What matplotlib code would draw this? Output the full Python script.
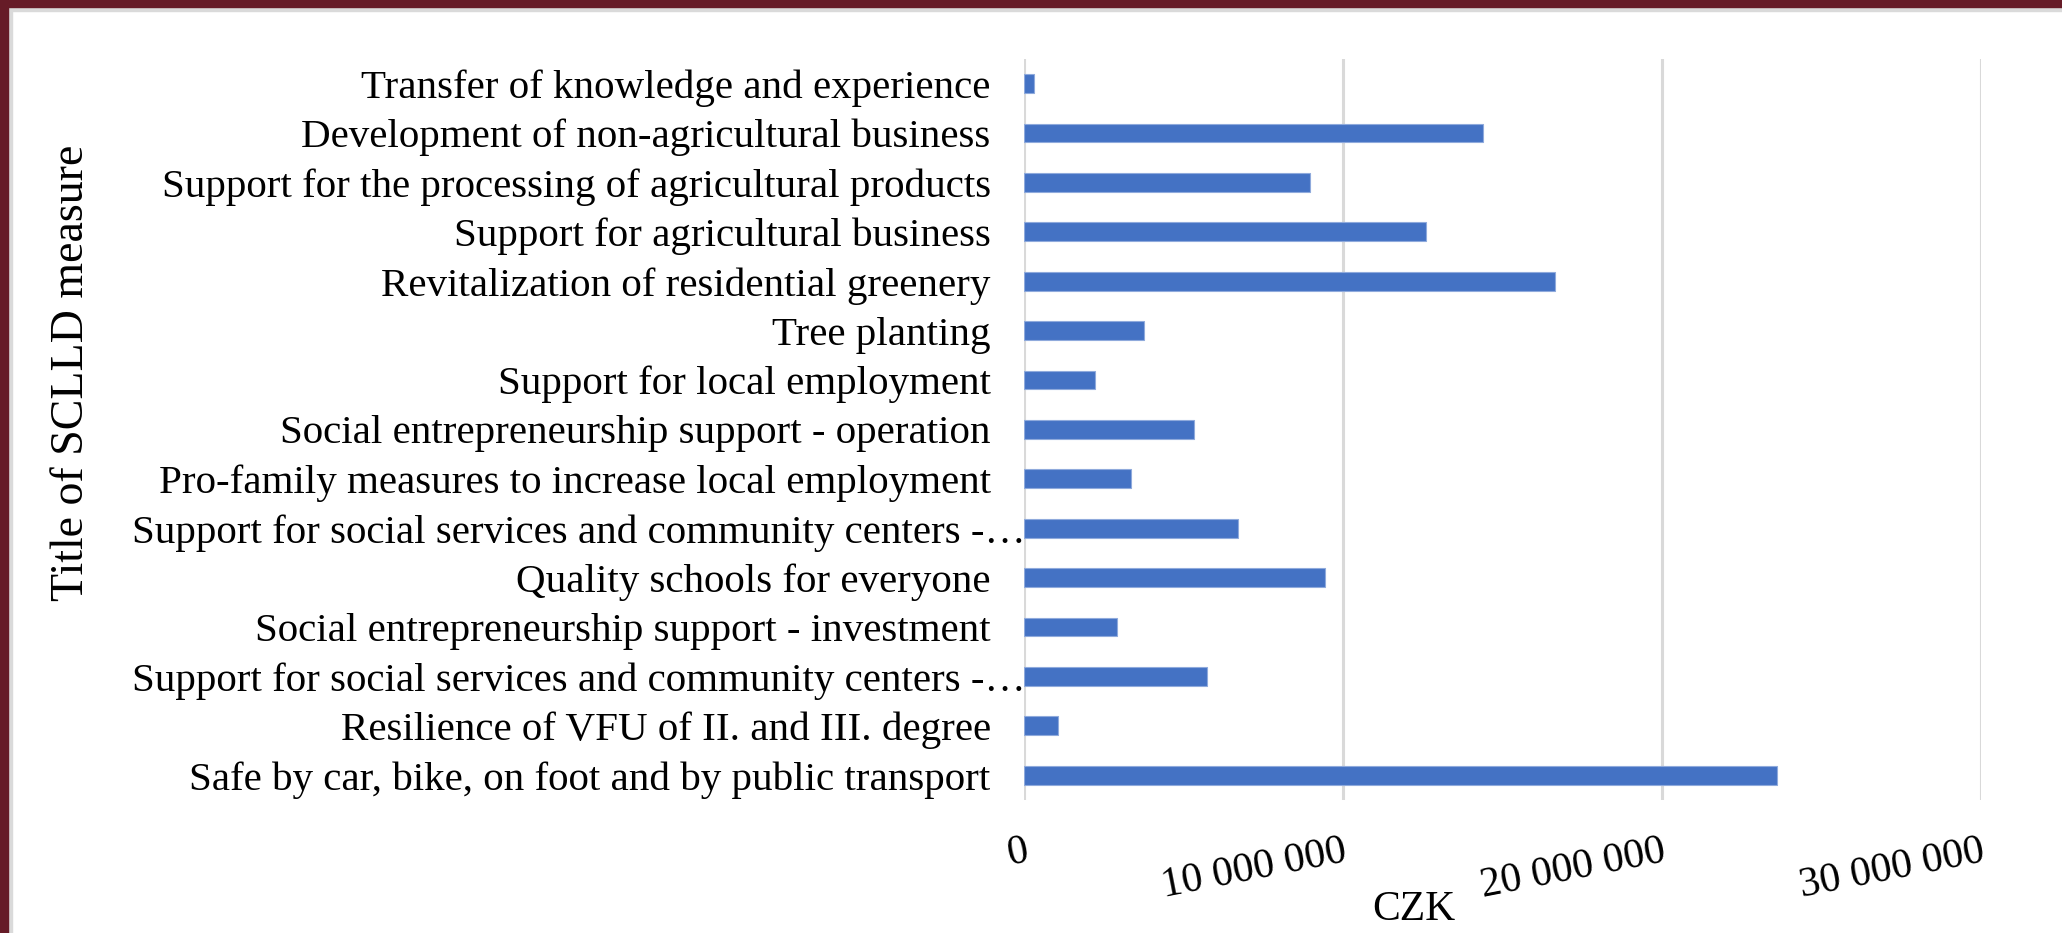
import numpy as np
import matplotlib.pyplot as plt
from matplotlib.ticker import FuncFormatter
from matplotlib.patches import Rectangle

# categories listed top -> bottom as in the chart
measures = [
    'Transfer of knowledge and experience',
    'Development of non-agricultural business',
    'Support for the processing of agricultural products',
    'Support for agricultural business',
    'Revitalization of residential greenery',
    'Tree planting',
    'Support for local employment',
    'Social entrepreneurship support - operation',
    'Pro-family measures to increase local employment',
    'Support for social services and community centers -\u2026',
    'Quality schools for everyone',
    'Social entrepreneurship support - investment',
    'Support for social services and community centers -\u2026',
    'Resilience of VFU of II. and III. degree',
    'Safe by car, bike, on foot and by public transport',
]
czk = [320000, 14390000, 8970000, 12590000, 16650000, 3750000, 2240000,
       5330000, 3340000, 6710000, 9450000, 2930000, 5740000, 1080000,
       23600000]
xticks = [0, 10000000, 20000000, 30000000]

plt.rcParams['font.family'] = ['Liberation Serif', 'DejaVu Serif']

fig = plt.figure(figsize=(20.62, 9.33), dpi=100)
ax = fig.add_axes([0.4966, 0.1426, 0.9607 - 0.4966, 0.9368 - 0.1426])

y = np.arange(len(measures))
ax.barh(y, czk, height=0.38, color='#4472C4', edgecolor='#8FAADC', linewidth=0.8, zorder=3)
ax.set_ylim(len(measures) - 0.5, -0.5)
ax.set_yticks(y)
ax.set_yticklabels(measures, fontsize=29.5)

ax.set_xlim(0, 30000000)
ax.set_xticks(xticks)
ax.xaxis.set_major_formatter(FuncFormatter(lambda v, p: f'{int(v):,}'.replace(',', ' ')))
for lab in ax.get_xticklabels():
    lab.set_rotation(11)
    lab.set_ha('right')
    lab.set_va('top')
    lab.set_rotation_mode('anchor')
    lab.set_fontsize(30)

ax.tick_params(axis='y', length=0, pad=24)
ax.tick_params(axis='x', length=0, pad=23)
# truncated labels run right up to the axis line, like in Excel
for tick, name in zip(ax.yaxis.get_major_ticks(), measures):
    if name.endswith('\u2026'):
        tick.set_pad(-1)

ax.grid(axis='x', color='#D9D9D9', linewidth=2.2, zorder=0)
for s in ax.spines.values():
    s.set_visible(False)

ax.set_xlabel('CZK', fontsize=30)
ax.xaxis.set_label_coords(0.407, -0.122)
fig.text(0.035, 0.6, 'Title of SCLLD measure', rotation=90, fontsize=33, ha='center', va='center')

# frame: maroon band at top and left with thin grey inner line
fig.patches.append(Rectangle((0, 1 - 7 / 933), 1, 7 / 933, transform=fig.transFigure, color='#661B27', zorder=10))
fig.patches.append(Rectangle((0, 1 - 11 / 933), 1, 4 / 933, transform=fig.transFigure, color='#DADADA', zorder=9))
fig.patches.append(Rectangle((0, 0), 8 / 2062, 1, transform=fig.transFigure, color='#661B27', zorder=10))
fig.patches.append(Rectangle((8 / 2062, 0), 4 / 2062, 1 - 7 / 933, transform=fig.transFigure, color='#DADADA', zorder=9))

fig.savefig('out.png', dpi=100)
